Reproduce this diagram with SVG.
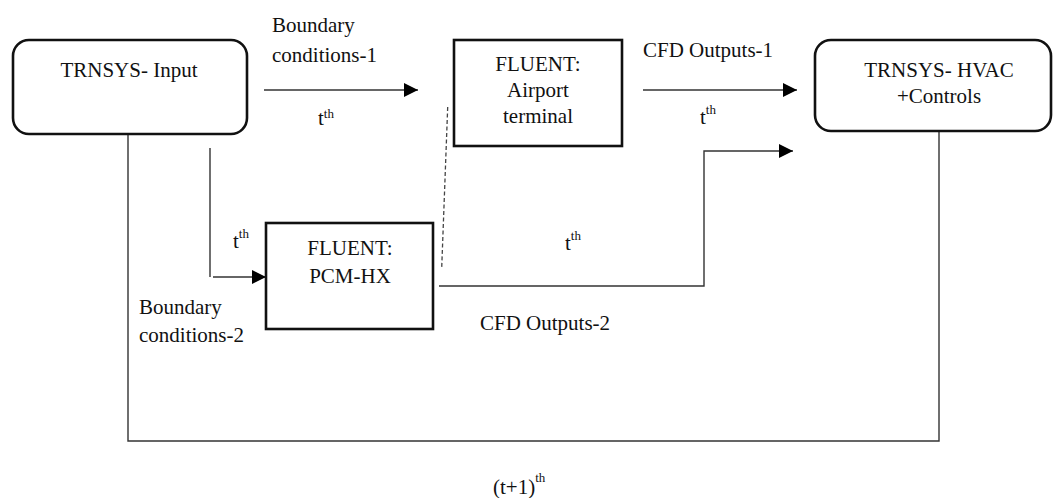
<svg xmlns="http://www.w3.org/2000/svg" width="1054" height="498" viewBox="0 0 1054 498">
<defs>
<style>
text{font-family:"Liberation Serif","DejaVu Serif",serif;font-size:21px;fill:#111;}
.c{text-anchor:middle;}
.sup{font-size:13px;}
.box{fill:#fff;stroke:#111;stroke-width:2.6;}
.ln{fill:none;stroke:#333;stroke-width:1.4;}
.dash{fill:none;stroke:#444;stroke-width:1.3;stroke-dasharray:4 2.5;}
</style>
<marker id="ah" viewBox="0 0 14 14" refX="14" refY="7" markerWidth="14" markerHeight="14" markerUnits="userSpaceOnUse" orient="auto">
<path d="M0,0 L14,7 L0,14 Z" fill="#000"/>
</marker>
</defs>
<rect width="1054" height="498" fill="#fff"/>
<g id="connectors">
<line class="ln" x1="264" y1="90" x2="418" y2="90" marker-end="url(#ah)"/>
<line class="ln" x1="643" y1="90" x2="797" y2="90" marker-end="url(#ah)"/>
<polyline class="ln" points="439,286 704,286 704,151 793,151" marker-end="url(#ah)"/>
<line class="ln" x1="210" y1="148" x2="210" y2="277"/>
<line class="ln" x1="213" y1="277" x2="266" y2="277" marker-end="url(#ah)"/>
<polyline class="ln" points="128,134 128,441 939,441 939,131"/>
<line class="dash" x1="447.7" y1="107" x2="441.7" y2="268"/>
</g>
<g id="trnsys-input">
<rect class="box" x="13" y="40" width="234" height="94" rx="16"/>
<text class="c" x="129" y="77">TRNSYS- Input</text>
</g>
<g id="fluent-airport">
<rect class="box" x="454" y="40" width="168" height="106"/>
<text class="c" x="538" y="71">FLUENT:</text>
<text class="c" x="538" y="97">Airport</text>
<text class="c" x="538" y="123">terminal</text>
</g>
<g id="trnsys-hvac">
<rect class="box" x="815" y="40" width="236" height="91" rx="16"/>
<text class="c" x="939" y="77">TRNSYS- HVAC</text>
<text class="c" x="939" y="103">+Controls</text>
</g>
<g id="fluent-pcm">
<rect class="box" x="266" y="223" width="167" height="106"/>
<text class="c" x="350" y="255">FLUENT:</text>
<text class="c" x="350" y="283">PCM-HX</text>
</g>
<g id="labels">
<text x="272" y="32">Boundary</text>
<text x="272" y="62">conditions-1</text>
<text x="318" y="125">t<tspan class="sup" dy="-7">th</tspan></text>
<text x="643" y="57">CFD Outputs-1</text>
<text x="700" y="124">t<tspan class="sup" dy="-10">th</tspan></text>
<text x="233" y="248">t<tspan class="sup" dy="-10">th</tspan></text>
<text x="565" y="250">t<tspan class="sup" dy="-10">th</tspan></text>
<text x="139" y="314">Boundary</text>
<text x="139" y="342">conditions-2</text>
<text x="480" y="330">CFD Outputs-2</text>
<text x="493" y="494">(t+1)<tspan class="sup" dy="-12">th</tspan></text>
</g>
</svg>
